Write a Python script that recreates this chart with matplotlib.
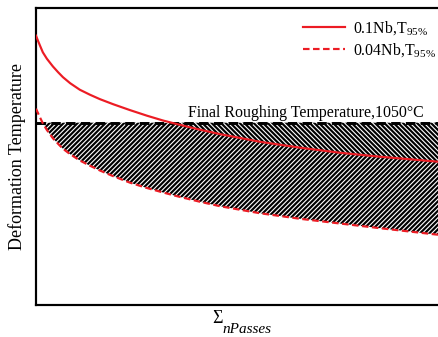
import numpy as np
import matplotlib
matplotlib.use("Agg")
import matplotlib.pyplot as plt

# Cumulative number of roughing passes (normalised scale)
passes = [0.0, 0.05, 0.10, 0.17, 0.27, 0.42, 0.55, 0.67, 0.85, 1.09, 1.34,
          1.59, 1.92, 2.34, 2.76, 3.16, 3.51, 4.08, 4.58, 5.57, 6.57, 7.56,
          8.56, 10.0]

# T95% recrystallisation-stop temperature for the two Nb levels (°C)
t95_nb010 = [1122.1, 1117.8, 1113.8, 1108.3, 1103.0, 1096.6, 1091.8, 1087.7,
             1082.7, 1077.3, 1073.2, 1069.5, 1065.3, 1060.4, 1055.8, 1051.8,
             1048.8, 1044.2, 1040.5, 1034.2, 1029.3, 1025.1, 1021.8, 1017.7]
t95_nb004 = [1061.6, 1057.9, 1054.3, 1049.5, 1044.0, 1037.1, 1032.5, 1028.4,
             1023.9, 1018.7, 1014.4, 1010.4, 1005.7, 1000.3, 995.9, 992.2,
             989.1, 984.5, 980.8, 975.0, 970.4, 966.5, 962.6, 957.2]

final_roughing_temp = 1050
series_labels = ["0.1Nb,T$_{95\\%}$", "0.04Nb,T$_{95\\%}$"]

RED = "#ec1c24"
SERIF = "Liberation Serif"

plt.rcParams["font.family"] = SERIF
plt.rcParams["mathtext.fontset"] = "custom"
plt.rcParams["mathtext.rm"] = SERIF
plt.rcParams["mathtext.it"] = SERIF + ":italic"
plt.rcParams["hatch.linewidth"] = 1.4

DPI = 112
W, H = 438, 337
fig = plt.figure(figsize=(W / DPI, H / DPI), dpi=DPI)
ax = fig.add_axes([36 / W, (H - 305) / H, (W - 36) / W, (305 - 8) / H])

x = np.array(passes)
hi = np.array(t95_nb010, dtype=float)
lo = np.array(t95_nb004, dtype=float)
frt = np.full_like(x, final_roughing_temp, dtype=float)

# hatched windows below the final roughing temperature
ax.fill_between(x, lo, np.minimum(hi, frt), where=lo < frt, interpolate=True,
                facecolor="none", edgecolor="black", linewidth=0,
                hatch="////////", zorder=1)
ax.fill_between(x, hi, frt, where=hi < frt, interpolate=True,
                facecolor="none", edgecolor="black", linewidth=0,
                hatch="\\" * 8, zorder=1)

ax.axhline(final_roughing_temp, color="black", lw=1.9, dashes=(3.2, 1.8),
           zorder=3)
ax.plot(x, hi, color=RED, lw=1.4, label=series_labels[0], zorder=4)
ax.plot(x, lo, color=RED, lw=1.4, dashes=(3.0, 1.6), label=series_labels[1],
        zorder=4)

ax.text(3.78, 1055, "Final Roughing Temperature,1050°C", fontsize=10.2,
        ha="left", va="baseline", zorder=5)

ax.set_xlim(0, 10)
ax.set_ylim(899, 1145)
ax.set_xticks([])
ax.set_yticks([])
for side in ("left", "bottom", "top"):
    ax.spines[side].set_linewidth(1.4)
    ax.spines[side].set_color("black")
ax.spines["right"].set_visible(False)

leg = ax.legend(loc="upper left", bbox_to_anchor=(303 / W, (H - 19) / H),
                bbox_transform=fig.transFigure, frameon=False, fontsize=10.2,
                handlelength=2.65, handletextpad=0.5, labelspacing=0.3,
                borderpad=0, borderaxespad=0)

fig.text(17 / W, 1 - 157 / H, "Deformation Temperature", rotation=90,
         ha="center", va="center", fontsize=11.6)

# x-axis label: summation over the passes
fig.text(222.5 / W, 1 - 323 / H, "Σ", fontsize=11.5, ha="right",
         va="baseline")
fig.text(222 / W, 1 - 333 / H, "nPasses", fontsize=9.8, style="italic",
         ha="left", va="baseline")

fig.savefig("out.png", dpi=DPI)
